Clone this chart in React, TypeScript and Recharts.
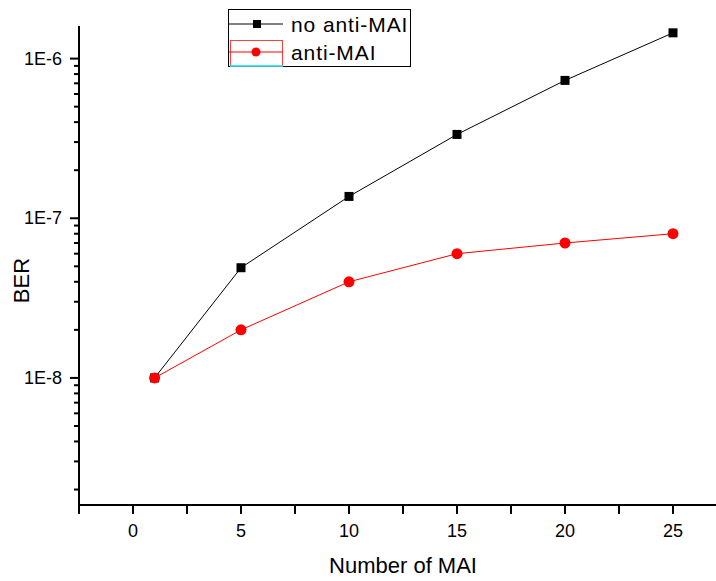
import React from 'react';
import { LineChart, Line, XAxis, YAxis, Legend } from 'recharts';

const mai = [1, 5, 10, 15, 20, 25];
const noAntiMai = [1e-8, 4.9e-8, 1.37e-7, 3.35e-7, 7.3e-7, 1.45e-6];
const antiMai = [1e-8, 2e-8, 4e-8, 6e-8, 7e-8, 8e-8];
const seriesNames = ['no anti-MAI', 'anti-MAI'];

const xTicks = [-2.5, 0, 2.5, 5, 7.5, 10, 12.5, 15, 17.5, 20, 22.5, 25, 27.5];
const yTicks = [
  2e-9, 3e-9, 4e-9, 5e-9, 6e-9, 7e-9, 8e-9, 9e-9,
  1e-8, 2e-8, 3e-8, 4e-8, 5e-8, 6e-8, 7e-8, 8e-8, 9e-8,
  1e-7, 2e-7, 3e-7, 4e-7, 5e-7, 6e-7, 7e-7, 8e-7, 9e-7,
  1e-6,
];

const data = mai.map((m, i) => ({ mai: m, noAnti: noAntiMai[i], anti: antiMai[i] }));

const FONT = '"Liberation Sans", Arial, sans-serif';

const isDecade = (v: number) => Math.abs(Math.log10(v) - Math.round(Math.log10(v))) < 1e-6;

const XTick = (props: any) => {
  const { x, y, payload } = props;
  const v = payload.value;
  const labelled = Number.isInteger(v) && v % 5 === 0;
  return (
    <g>
      <line x1={x} x2={x} y1={y} y2={y + 9} stroke="#000" strokeWidth={2} />
      {labelled && (
        <text x={x} y={y + 32} textAnchor="middle" fontSize={18} fontFamily={FONT} fill="#000">
          {v}
        </text>
      )}
    </g>
  );
};

const YTick = (props: any) => {
  const { x, y, payload } = props;
  const v = payload.value;
  const major = isDecade(v);
  return (
    <g>
      <line x1={x - (major ? 9 : 5)} x2={x} y1={y} y2={y} stroke="#000" strokeWidth={2} />
      {major && (
        <text x={x - 17} y={y + 6} textAnchor="end" fontSize={18} fontFamily={FONT} fill="#000">
          {`1E${Math.round(Math.log10(v))}`}
        </text>
      )}
    </g>
  );
};

const YLabel = (props: any) => {
  const vb = props.viewBox || { x: 0, y: 0, width: 0, height: 0 };
  const cx = vb.x + 21;
  const cy = vb.y + vb.height / 2 + 15;
  return (
    <text x={cx} y={cy} transform={`rotate(-90 ${cx} ${cy})`} textAnchor="middle" dominantBaseline="central" fontSize={22} fontFamily={FONT} fill="#000">
      BER
    </text>
  );
};

const XLabel = (props: any) => {
  const vb = props.viewBox || { x: 0, y: 0, width: 0, height: 0 };
  return (
    <text x={vb.x + vb.width / 2} y={vb.y + 68} textAnchor="middle" fontSize={22} fontFamily={FONT} fill="#000">
      Number of MAI
    </text>
  );
};

const SquareDot = (props: any) => {
  const { cx, cy } = props;
  if (cx == null || cy == null) return null;
  return <rect x={cx - 4.5} y={cy - 4.5} width={9} height={9} fill="#000" />;
};

const CircleDot = (props: any) => {
  const { cx, cy } = props;
  if (cx == null || cy == null) return null;
  return <circle cx={cx} cy={cy} r={5.5} fill="#ff0000" />;
};

const LegendBox = (props: any) => {
  const items = [...(props.payload || [])].sort(
    (a: any, b: any) => seriesNames.indexOf(a.value) - seriesNames.indexOf(b.value)
  );
  return (
    <svg width={183} height={58} style={{ display: 'block' }}>
      <rect x={0.5} y={0.5} width={182} height={57} fill="#fff" stroke="#000" strokeWidth={1} />
      {items.map((it: any, i: number) => {
        const cy = i === 0 ? 15 : 43;
        const color = it.color;
        return (
          <g key={i}>
            {i === 1 && <rect x={2.5} y={31.5} width={52} height={26} fill="none" stroke="#ff4040" strokeWidth={1} />}
            <line x1={1} x2={55} y1={cy} y2={cy} stroke={color} strokeWidth={1} />
            {i === 0 ? (
              <rect x={25} y={cy - 4} width={8} height={8} fill="#000" />
            ) : (
              <circle cx={28} cy={cy} r={4.5} fill="#ff0000" />
            )}
            <text x={63} y={cy + 7.5} fontSize={21} fontFamily={FONT} fill="#000" letterSpacing={0.9}>
              {it.value}
            </text>
          </g>
        );
      })}
      <line x1={2} x2={55} y1={57} y2={57} stroke="#00e5ee" strokeWidth={1.5} />
    </svg>
  );
};

export default function App() {
  return (
    <div style={{ position: 'absolute', left: 0, top: 0, width: 716, height: 581, overflow: 'hidden', background: '#fff' }}>
      <LineChart width={760} height={581} data={data} margin={{ top: 26, right: 33, bottom: 0, left: 0 }}>
        <XAxis
          dataKey="mai"
          type="number"
          domain={[-2.5, 27.5]}
          ticks={xTicks}
          interval={0}
          allowDataOverflow
          tickSize={0}
          tickMargin={0}
          tickLine={false}
          tick={<XTick />}
          axisLine={{ stroke: '#000', strokeWidth: 2 }}
          height={76}
          label={<XLabel />}
        />
        <YAxis
          type="number"
          scale="log"
          domain={[1.6e-9, 1.6e-6]}
          ticks={yTicks}
          interval={0}
          allowDataOverflow
          tickSize={0}
          tickMargin={0}
          tickLine={false}
          tick={<YTick />}
          axisLine={{ stroke: '#000', strokeWidth: 2 }}
          width={79}
          label={<YLabel />}
        />
        <Legend
          layout="vertical"
          align="center"
          verticalAlign="middle"
          content={<LegendBox />}
          wrapperStyle={{ position: 'absolute', left: 228, top: 9, width: 183, height: 58 }}
        />
        <Line
          dataKey="noAnti"
          name="no anti-MAI"
          stroke="#000"
          strokeWidth={1}
          dot={<SquareDot />}
          activeDot={false}
          isAnimationActive={false}
        />
        <Line
          dataKey="anti"
          name="anti-MAI"
          stroke="#ff0000"
          strokeWidth={1}
          dot={<CircleDot />}
          activeDot={false}
          isAnimationActive={false}
        />
      </LineChart>
    </div>
  );
}
